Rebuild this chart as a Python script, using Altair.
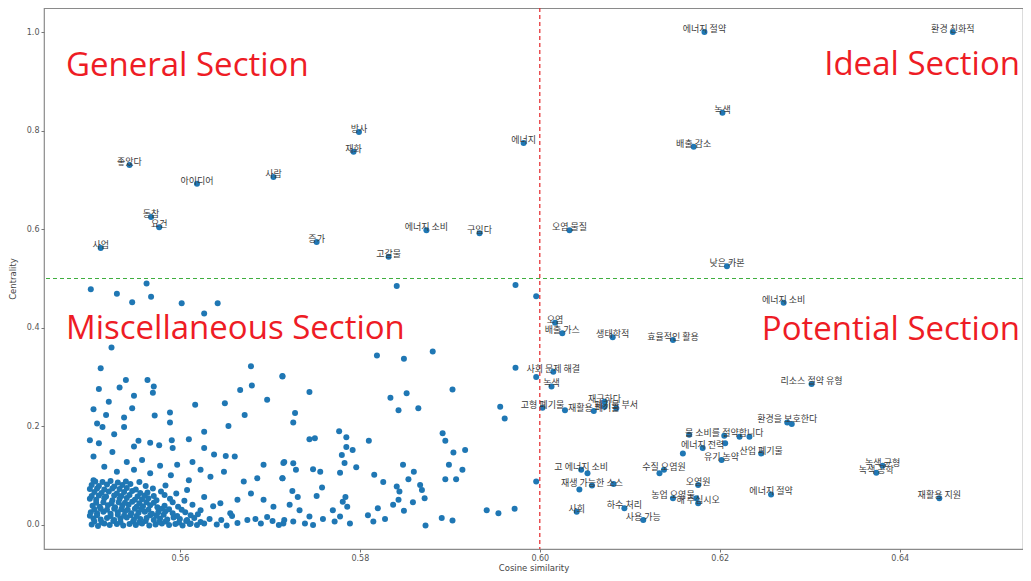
import altair as alt
import pandas as pd

# ---- labelled keywords (cosine similarity, centrality) ----
label_words = [
    "에너지 절약", "환경 친화적", "녹색", "배출 감소", "에너지", "오염 물질", "낮은 카본",
    "방사", "재화", "좋았다", "아이디어", "사람", "동참", "요건", "사업", "증가",
    "에너지 소비", "구입다", "고갈물",
    "에너지 소비", "오염", "배출 가스", "생태학적", "효율적인 활용", "사회 문제 해결", "녹색",
    "고형 폐기물", "재활용 폐기물", "폐기물 부서", "재구하다",
    "고 에너지 소비", "재생 가능한 소스", "사회", "하수 처리", "사용 가능",
    "수질 오염원", "오염원", "농업 오염물", "해 주십시오",
    "물 소비를 절약합니다", "에너지 전력", "산업 폐기물", "유기 농약", "에너지 절약",
    "환경을 보호한다", "리소스 절약 유형", "녹색 공학", "녹색 균형", "재활용 지원",
]
label_x = [
    0.6183, 0.6459, 0.6203, 0.6171, 0.5982, 0.6033, 0.6208,
    0.5799, 0.5793, 0.5544, 0.5619, 0.5704, 0.5568, 0.5577, 0.5512, 0.5752,
    0.5874, 0.5933, 0.5832,
    0.6271, 0.6017, 0.6025, 0.6081, 0.6148, 0.6015, 0.6013,
    0.6003, 0.6060, 0.6085, 0.6072,
    0.6046, 0.6058, 0.6041, 0.6094, 0.6115,
    0.6138, 0.6176, 0.6148, 0.6176,
    0.6205, 0.6181, 0.6246, 0.6202, 0.6257,
    0.6275, 0.6302, 0.6374, 0.6381, 0.6444,
]
label_y = [
    1.000, 1.000, 0.836, 0.767, 0.775, 0.598, 0.525,
    0.797, 0.757, 0.730, 0.692, 0.706, 0.625, 0.604, 0.562, 0.574,
    0.598, 0.592, 0.544,
    0.451, 0.410, 0.389, 0.381, 0.375, 0.311, 0.281,
    0.238, 0.231, 0.237, 0.250,
    0.112, 0.080, 0.027, 0.034, 0.010,
    0.112, 0.081, 0.054, 0.044,
    0.181, 0.156, 0.145, 0.132, 0.062,
    0.208, 0.286, 0.106, 0.120, 0.054,
]

# ---- unlabelled keywords ----
misc_points = [
    # sparse upper part of the miscellaneous section
    (0.5501, 0.478), (0.5563, 0.490), (0.5530, 0.469), (0.5547, 0.452), (0.5568, 0.463),
    (0.5602, 0.450), (0.5642, 0.450), (0.5627, 0.429), (0.5524, 0.360), (0.5512, 0.318),
    (0.5679, 0.322), (0.5714, 0.301), (0.5540, 0.294), (0.5564, 0.294), (0.5571, 0.281),
    (0.5570, 0.268), (0.5533, 0.279), (0.5510, 0.276), (0.5549, 0.262), (0.5521, 0.250),
    (0.5667, 0.274), (0.5680, 0.283), (0.5697, 0.254), (0.5617, 0.244), (0.5650, 0.247),
    (0.5672, 0.223), (0.5504, 0.235), (0.5547, 0.237), (0.5518, 0.223), (0.5538, 0.218),
    (0.5572, 0.222), (0.5589, 0.228), (0.5589, 0.208), (0.5508, 0.206), (0.5538, 0.199),
    (0.5514, 0.199), (0.5654, 0.201), (0.5627, 0.189), (0.5527, 0.184), (0.5500, 0.172),
    (0.5510, 0.166), (0.5554, 0.171), (0.5567, 0.167), (0.5577, 0.162), (0.5549, 0.159),
    (0.5591, 0.172), (0.5610, 0.174), (0.5592, 0.156), (0.5525, 0.148), (0.5627, 0.156),
    (0.5638, 0.143), (0.5651, 0.140), (0.5661, 0.139), (0.5504, 0.139), (0.5541, 0.128),
    (0.5558, 0.132), (0.5578, 0.120), (0.5597, 0.122), (0.5614, 0.128), (0.5693, 0.122),
    (0.5716, 0.128), (0.5516, 0.118), (0.5530, 0.108), (0.5549, 0.112), (0.5567, 0.105),
    (0.5590, 0.101), (0.5623, 0.112), (0.5634, 0.098), (0.5649, 0.108), (0.5610, 0.091),
    (0.5671, 0.088), (0.5686, 0.095), (0.5714, 0.095), (0.5504, 0.091),
    # dense lower-left cluster
    (0.5502, 0.001), (0.5509, -0.002), (0.5516, 0.003), (0.5522, 0.000), (0.5530, 0.002),
    (0.5537, -0.001), (0.5544, 0.002), (0.5551, 0.000), (0.5558, 0.003), (0.5566, -0.001),
    (0.5573, 0.001), (0.5580, 0.003), (0.5588, 0.000), (0.5595, 0.002), (0.5603, -0.001),
    (0.5611, 0.002), (0.5619, 0.000), (0.5627, 0.003), (0.5641, 0.001), (0.5652, -0.001),
    (0.5505, 0.007), (0.5513, 0.005), (0.5526, 0.008), (0.5534, 0.006), (0.5548, 0.007),
    (0.5555, 0.005), (0.5562, 0.008), (0.5577, 0.006), (0.5584, 0.007), (0.5599, 0.005),
    (0.5607, 0.008), (0.5623, 0.006),
    (0.5504, 0.013), (0.5512, 0.011), (0.5519, 0.014), (0.5527, 0.010), (0.5534, 0.013),
    (0.5541, 0.015), (0.5549, 0.011), (0.5556, 0.012), (0.5563, 0.014), (0.5571, 0.010),
    (0.5578, 0.013), (0.5586, 0.011), (0.5593, 0.015), (0.5600, 0.012), (0.5608, 0.010),
    (0.5616, 0.014), (0.5633, 0.012),
    (0.5500, 0.019), (0.5508, 0.020), (0.5523, 0.018), (0.5531, 0.021), (0.5538, 0.019),
    (0.5545, 0.020), (0.5552, 0.018), (0.5567, 0.020), (0.5574, 0.019), (0.5582, 0.021),
    (0.5597, 0.018), (0.5612, 0.020),
    (0.5501, 0.026), (0.5508, 0.024), (0.5515, 0.027), (0.5523, 0.023), (0.5531, 0.026),
    (0.5539, 0.028), (0.5546, 0.024), (0.5554, 0.025), (0.5561, 0.027), (0.5569, 0.023),
    (0.5576, 0.026), (0.5584, 0.028), (0.5592, 0.024), (0.5606, 0.026), (0.5620, 0.022),
    (0.5505, 0.032), (0.5512, 0.033), (0.5519, 0.031), (0.5527, 0.033), (0.5535, 0.032),
    (0.5542, 0.031), (0.5550, 0.033), (0.5557, 0.032), (0.5565, 0.031), (0.5580, 0.033),
    (0.5588, 0.032), (0.5602, 0.031),
    (0.5503, 0.039), (0.5511, 0.037), (0.5520, 0.040), (0.5528, 0.036), (0.5536, 0.039),
    (0.5543, 0.041), (0.5552, 0.037), (0.5559, 0.038), (0.5567, 0.040), (0.5575, 0.036),
    (0.5583, 0.039), (0.5598, 0.037), (0.5614, 0.041), (0.5637, 0.038),
    (0.5507, 0.045), (0.5515, 0.046), (0.5524, 0.044), (0.5532, 0.046), (0.5539, 0.045),
    (0.5547, 0.047), (0.5555, 0.044), (0.5563, 0.046), (0.5571, 0.045), (0.5592, 0.046),
    (0.5500, 0.053), (0.5507, 0.051), (0.5516, 0.054), (0.5525, 0.050), (0.5533, 0.053),
    (0.5541, 0.055), (0.5550, 0.051), (0.5558, 0.052), (0.5565, 0.054), (0.5574, 0.050),
    (0.5589, 0.053), (0.5605, 0.049),
    (0.5502, 0.059), (0.5510, 0.060), (0.5518, 0.058), (0.5527, 0.060), (0.5535, 0.059),
    (0.5544, 0.061), (0.5553, 0.058), (0.5561, 0.060), (0.5571, 0.059), (0.5583, 0.061),
    (0.5505, 0.067), (0.5513, 0.065), (0.5521, 0.068), (0.5530, 0.064), (0.5538, 0.067),
    (0.5547, 0.069), (0.5556, 0.065), (0.5564, 0.066), (0.5579, 0.068), (0.5596, 0.064),
    (0.5500, 0.073), (0.5508, 0.074), (0.5516, 0.072), (0.5525, 0.074), (0.5533, 0.073),
    (0.5541, 0.075), (0.5551, 0.072), (0.5570, 0.074),
    (0.5502, 0.081), (0.5510, 0.079), (0.5519, 0.082), (0.5527, 0.078), (0.5536, 0.081),
    (0.5545, 0.083), (0.5562, 0.079), (0.5584, 0.080),
    (0.5506, 0.088), (0.5514, 0.087), (0.5523, 0.089), (0.5531, 0.086), (0.5540, 0.088),
    (0.5555, 0.087),
    (0.5664, 0.051), (0.5679, 0.064), (0.5693, 0.051), (0.5704, 0.037), (0.5675, 0.010),
    (0.5690, 0.003), (0.5716, 0.010), (0.5656, 0.024), (0.5645, 0.044), (0.5623, 0.030),
    (0.5612, 0.003), (0.5627, 0.057), (0.5608, 0.071), (0.5703, 0.008), (0.5710, 0.000),
    (0.5697, 0.016), (0.5684, 0.012), (0.5664, 0.004), (0.5658, 0.018), (0.5646, 0.010),
    # middle part of the miscellaneous section
    (0.5841, 0.485), (0.5973, 0.487), (0.5996, 0.464), (0.5819, 0.344), (0.5849, 0.337),
    (0.5881, 0.352), (0.5973, 0.319), (0.5714, 0.302), (0.5744, 0.270), (0.5903, 0.275),
    (0.5834, 0.258), (0.5852, 0.267), (0.5843, 0.233), (0.5865, 0.237), (0.5956, 0.240),
    (0.5961, 0.216), (0.5728, 0.227), (0.5726, 0.208), (0.5777, 0.190), (0.5785, 0.178),
    (0.5810, 0.171), (0.5744, 0.174), (0.5750, 0.176), (0.5785, 0.158), (0.5792, 0.152),
    (0.5892, 0.186), (0.5895, 0.171), (0.5904, 0.147), (0.5917, 0.152), (0.5780, 0.142),
    (0.5783, 0.126), (0.5796, 0.117), (0.5715, 0.126), (0.5726, 0.125), (0.5729, 0.112),
    (0.5748, 0.113), (0.5756, 0.108), (0.5778, 0.106), (0.5714, 0.095), (0.5848, 0.122),
    (0.5860, 0.108), (0.5854, 0.093), (0.5816, 0.102), (0.5826, 0.087), (0.5899, 0.122),
    (0.5914, 0.112), (0.5895, 0.093), (0.5907, 0.093), (0.5996, 0.088), (0.5758, 0.076),
    (0.5725, 0.069), (0.5731, 0.057), (0.5752, 0.059), (0.5784, 0.057), (0.5781, 0.047),
    (0.5786, 0.037), (0.5841, 0.078), (0.5844, 0.068), (0.5867, 0.081), (0.5869, 0.071),
    (0.5872, 0.054), (0.5843, 0.051), (0.5837, 0.041), (0.5859, 0.046), (0.5849, 0.029),
    (0.5820, 0.034), (0.5809, 0.020), (0.5815, 0.007), (0.5828, 0.012), (0.5873, -0.001),
    (0.5891, 0.014), (0.5903, 0.009), (0.5941, 0.030), (0.5954, 0.024), (0.5972, 0.033),
    (0.5722, 0.041), (0.5733, 0.030), (0.5770, 0.030), (0.5778, 0.017), (0.5789, 0.003),
    (0.5772, 0.007), (0.5759, 0.012), (0.5744, 0.017), (0.5739, 0.003), (0.5726, 0.007),
    (0.5715, 0.003), (0.5748, 0.000),
    # unlabelled neighbours in the potential section
    (0.5996, 0.300), (0.6028, 0.233), (0.6072, 0.240), (0.6044, 0.072), (0.6082, 0.083),
    (0.6053, 0.105), (0.6166, 0.183), (0.6222, 0.179), (0.6233, 0.179), (0.6159, 0.145),
    (0.6206, 0.166), (0.6133, 0.105), (0.6174, 0.054), (0.6280, 0.205),
]

x_ticks = [0.56, 0.58, 0.60, 0.62, 0.64]
y_ticks = [0.0, 0.2, 0.4, 0.6, 0.8, 1.0]
x_split = [0.60]
y_split = [0.50]

points_df = pd.DataFrame({
    "sim": label_x + [p[0] for p in misc_points],
    "cent": label_y + [p[1] for p in misc_points],
})
labels_df = pd.DataFrame({"word": label_words, "sim": label_x, "cent": label_y})

xs = alt.Scale(domain=[0.5449, 0.6537], nice=False, zero=False)
ys = alt.Scale(domain=[-0.0487, 1.0487], nice=False, zero=False)

x_enc = alt.X("sim:Q", scale=xs,
              axis=alt.Axis(values=x_ticks, format=".2f", title="Cosine similarity",
                            titlePadding=1, labelPadding=2))
y_enc = alt.Y("cent:Q", scale=ys,
              axis=alt.Axis(values=y_ticks, format=".1f", title="Centrality",
                            titlePadding=9, labelPadding=2))

points = alt.Chart(points_df).mark_circle(size=36, color="#1f77b4", opacity=1).encode(
    x=x_enc, y=y_enc)

vline = alt.Chart(pd.DataFrame({"sim": x_split})).mark_rule(
    color="#e3262a", strokeDash=[4, 3], strokeWidth=1.2).encode(x="sim:Q")
hline = alt.Chart(pd.DataFrame({"cent": y_split})).mark_rule(
    color="#3fae3f", strokeDash=[4, 3], strokeWidth=1.2).encode(y="cent:Q")

labels = alt.Chart(labels_df).mark_text(
    font="Noto Sans CJK KR", fontSize=9, color="#3a3a3a", dy=-3, baseline="middle"
).encode(x="sim:Q", y="cent:Q", text="word:N")


def section(name, px, py, align):
    return alt.Chart(pd.DataFrame({"t": [name]})).mark_text(
        font="Open Sans", fontSize=33, color="#ee1c25", align=align, baseline="alphabetic"
    ).encode(x=alt.value(px), y=alt.value(py), text="t:N")


chart = alt.layer(
    points, vline, hline, labels,
    section("General Section", 22, 68, "left"),
    section("Ideal Section", 976, 67, "right"),
    section("Miscellaneous Section", 22, 331, "left"),
    section("Potential Section", 976, 332, "right"),
).properties(
    width=979, height=541,
    autosize=alt.AutoSizeParams(type="none"),
    padding={"left": 36, "top": 0, "right": 0, "bottom": 24},
).configure_view(
    stroke="#8a8a8a", strokeWidth=1.2
).configure_axis(
    grid=False, domain=False, labelFontSize=8, labelColor="#555555", labelFont="DejaVu Sans",
    tickColor="#777777", tickSize=3, titleFontSize=8.5, titleFontWeight="normal",
    titleColor="#444444", titleFont="DejaVu Sans",
)

chart.save("out.html", embed_options={"renderer": "svg", "actions": False})
